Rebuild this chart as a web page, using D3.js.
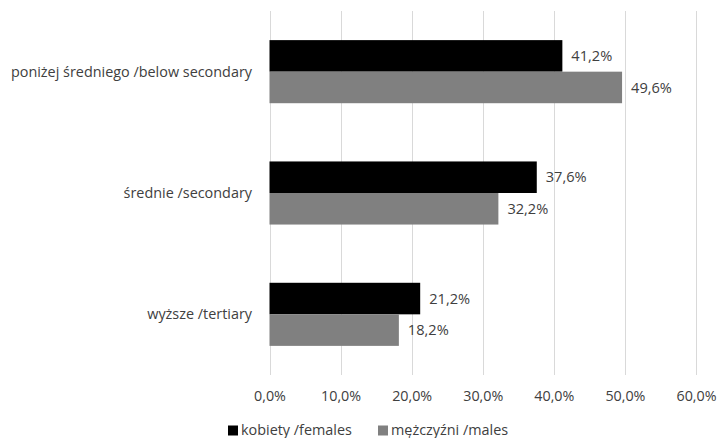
<!DOCTYPE html>
<html><head><meta charset="utf-8">
<script src="https://cdn.jsdelivr.net/npm/d3@7"></script>
<style>
html,body{margin:0;padding:0;background:#fff;}
text{font-family:"Open Sans",sans-serif;fill:#404040;}
</style></head>
<body><svg id="c" width="717" height="438"></svg>
<script>
const categories = ["poniżej średniego /below secondary", "średnie /secondary", "wyższe /tertiary"];
const seriesNames = ["kobiety /females", "mężczyźni /males"];
const females = [41.2, 37.6, 21.2];
const males = [49.6, 32.2, 18.2];
const xTicks = [0, 10, 20, 30, 40, 50, 60];
const colors = ["#000000", "#808080"];

const svg = d3.select("#c");
const mLeft = 269.5, mRight = 696, mTop = 11, mBottom = 375;
const x = d3.scaleLinear().domain([0, 60]).range([mLeft, mRight]);
const y = d3.scaleBand().domain(categories).range([mTop, mBottom]).paddingInner(0.48).paddingOuter(0.24);
const y2 = d3.scaleBand().domain(seriesNames).range([0, y.bandwidth()]);
const fmt = v => v.toFixed(1).replace(".", ",") + "%";

// gridlines
svg.append("g").selectAll("line").data(xTicks).join("line")
  .attr("x1", d => Math.round(x(d)) + 0.5).attr("x2", d => Math.round(x(d)) + 0.5)
  .attr("y1", mTop).attr("y2", mBottom)
  .attr("stroke", "#d9d9d9").attr("stroke-width", 1);

// axis labels
const ax = svg.append("g").attr("transform", `translate(0,${mBottom})`)
  .call(d3.axisBottom(x).tickValues(xTicks).tickSize(0).tickPadding(16).tickFormat(d => fmt(d)));
ax.select(".domain").remove();
ax.selectAll("text").attr("font-size", 14.3).attr("font-family", "Open Sans").attr("fill", "#404040");

const data = categories.map((c, i) => ({c, vals: [females[i], males[i]]}));
const groups = svg.append("g").selectAll("g").data(data).join("g")
  .attr("transform", d => `translate(0,${y(d.c)})`);
groups.selectAll("rect").data(d => d.vals.map((v, j) => ({v, s: seriesNames[j], j}))).join("rect")
  .attr("x", x(0)).attr("y", d => y2(d.s)).attr("width", d => x(d.v) - x(0)).attr("height", y2.bandwidth())
  .attr("fill", d => colors[d.j]);
groups.selectAll("text.v").data(d => d.vals.map((v, j) => ({v, s: seriesNames[j]}))).join("text")
  .attr("class", "v").attr("x", d => x(d.v) + 9).attr("y", d => y2(d.s) + y2.bandwidth() / 2)
  .attr("dy", "0.35em").attr("font-size", 14.6).text(d => fmt(d.v));

// category labels
svg.append("g").selectAll("text").data(categories).join("text")
  .attr("x", 252).attr("y", d => y(d) + y.bandwidth() / 2).attr("dy", "0.35em")
  .attr("text-anchor", "end").attr("font-size", 14.4).text(d => d);

// legend
const legX = [228, 378];
const leg = svg.append("g").selectAll("g").data(seriesNames).join("g")
  .attr("transform", (d, i) => `translate(${legX[i]},430)`);
leg.append("rect").attr("x", 0).attr("y", -4.5).attr("width", 10).attr("height", 10).attr("fill", (d, i) => colors[i]);
leg.append("text").attr("x", 13).attr("y", 0).attr("dy", "0.35em").attr("font-size", 14.4).text(d => d);
</script></body></html>
